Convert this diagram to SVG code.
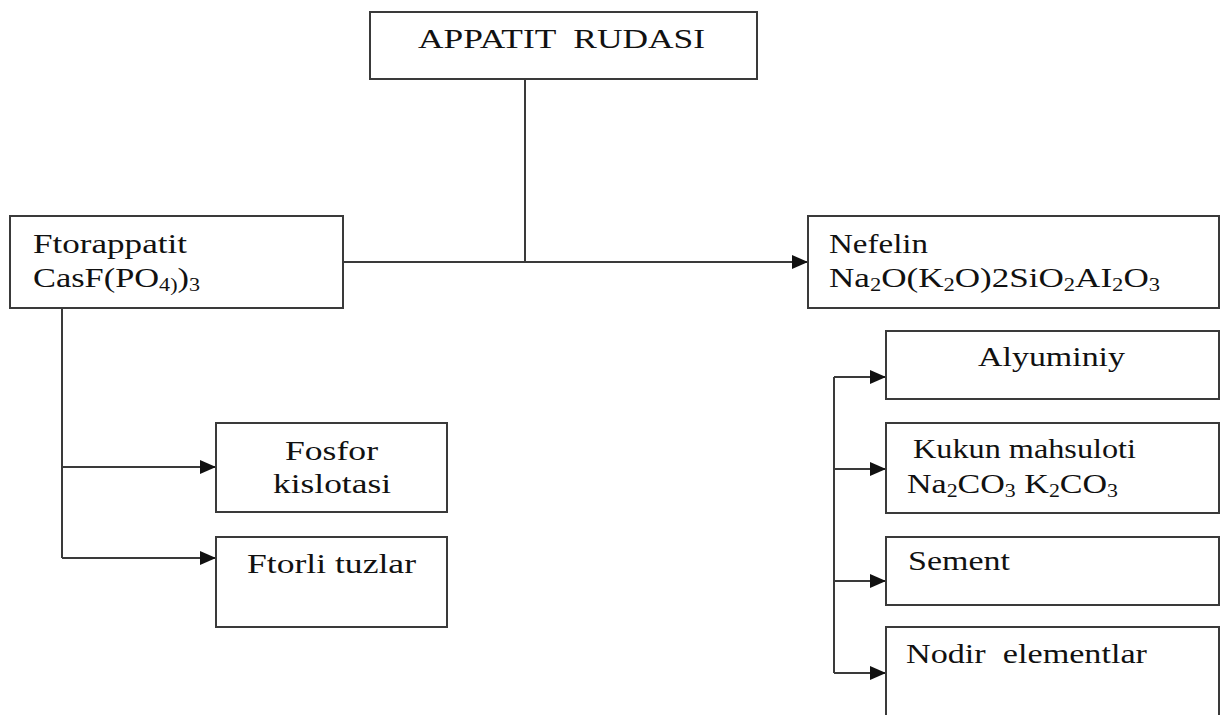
<svg xmlns="http://www.w3.org/2000/svg" width="1220" height="715" viewBox="0 0 1220 715">
<style>
.box{fill:#fff;stroke:#3a3a3a;stroke-width:2}
.t{font-family:"Liberation Serif","Times New Roman",serif;font-size:28px;fill:#111}
.s{font-size:18px}
.c{fill:none;stroke:#3a3a3a;stroke-width:2}
</style>
<defs>
<marker id="arr" markerUnits="userSpaceOnUse" markerWidth="18" markerHeight="14" refX="16" refY="7" orient="auto">
<path d="M0,0 L16,7 L0,14 Z" fill="#111"/>
</marker>
</defs>
<rect width="1220" height="715" fill="#fff"/>
<g id="connectors">
<path class="c" d="M525,79 V262"/>
<path class="c" d="M343,262 H808" marker-end="url(#arr)"/>
<path class="c" d="M62,308 V558"/>
<path class="c" d="M62,467 H216" marker-end="url(#arr)"/>
<path class="c" d="M62,558 H216" marker-end="url(#arr)"/>
<path class="c" d="M834,377 V673"/>
<path class="c" d="M834,377 H886" marker-end="url(#arr)"/>
<path class="c" d="M834,469 H886" marker-end="url(#arr)"/>
<path class="c" d="M834,581 H886" marker-end="url(#arr)"/>
<path class="c" d="M834,673 H886" marker-end="url(#arr)"/>
</g>
<g id="appatit">
<rect class="box" x="370" y="12" width="387" height="67"/>
<text class="t" x="418" y="48" textLength="287" lengthAdjust="spacingAndGlyphs" xml:space="preserve">APPATIT  RUDASI</text>
</g>
<g id="ftorappatit">
<rect class="box" x="10" y="216" width="333" height="92"/>
<text class="t" x="33" y="253" textLength="154" lengthAdjust="spacingAndGlyphs">Ftorappatit</text>
<text class="t" x="33" y="287" textLength="167" lengthAdjust="spacingAndGlyphs">CasF(PO<tspan class="s" dy="4">4)</tspan><tspan dy="-4">)</tspan><tspan class="s" dy="4">3</tspan></text>
</g>
<g id="nefelin">
<rect class="box" x="808" y="216" width="411" height="92"/>
<text class="t" x="829" y="253" textLength="99" lengthAdjust="spacingAndGlyphs">Nefelin</text>
<text class="t" x="829" y="287" textLength="331" lengthAdjust="spacingAndGlyphs">Na<tspan class="s" dy="4">2</tspan><tspan dy="-4">O(K</tspan><tspan class="s" dy="4">2</tspan><tspan dy="-4">O)2SiO</tspan><tspan class="s" dy="4">2</tspan><tspan dy="-4">AI</tspan><tspan class="s" dy="4">2</tspan><tspan dy="-4">O</tspan><tspan class="s" dy="4">3</tspan></text>
</g>
<g id="fosfor">
<rect class="box" x="216" y="423" width="231" height="89"/>
<text class="t" x="285" y="460" textLength="93" lengthAdjust="spacingAndGlyphs">Fosfor</text>
<text class="t" x="273" y="493" textLength="118" lengthAdjust="spacingAndGlyphs">kislotasi</text>
</g>
<g id="ftorli">
<rect class="box" x="216" y="537" width="231" height="90"/>
<text class="t" x="247" y="573" textLength="169" lengthAdjust="spacingAndGlyphs">Ftorli tuzlar</text>
</g>
<g id="alyuminiy">
<rect class="box" x="886" y="331" width="333" height="68"/>
<text class="t" x="978" y="366" textLength="147" lengthAdjust="spacingAndGlyphs">Alyuminiy</text>
</g>
<g id="kukun">
<rect class="box" x="886" y="423" width="333" height="90"/>
<text class="t" x="913" y="458" textLength="223" lengthAdjust="spacingAndGlyphs">Kukun mahsuloti</text>
<text class="t" x="907" y="493" textLength="211" lengthAdjust="spacingAndGlyphs">Na<tspan class="s" dy="4">2</tspan><tspan dy="-4">CO</tspan><tspan class="s" dy="4">3</tspan><tspan dy="-4"> K</tspan><tspan class="s" dy="4">2</tspan><tspan dy="-4">CO</tspan><tspan class="s" dy="4">3</tspan></text>
</g>
<g id="sement">
<rect class="box" x="886" y="537" width="333" height="68"/>
<text class="t" x="908" y="570" textLength="102" lengthAdjust="spacingAndGlyphs">Sement</text>
</g>
<g id="nodir">
<rect class="box" x="886" y="627" width="333" height="100"/>
<text class="t" x="906" y="663" textLength="241" lengthAdjust="spacingAndGlyphs" xml:space="preserve">Nodir  elementlar</text>
</g>
</svg>
